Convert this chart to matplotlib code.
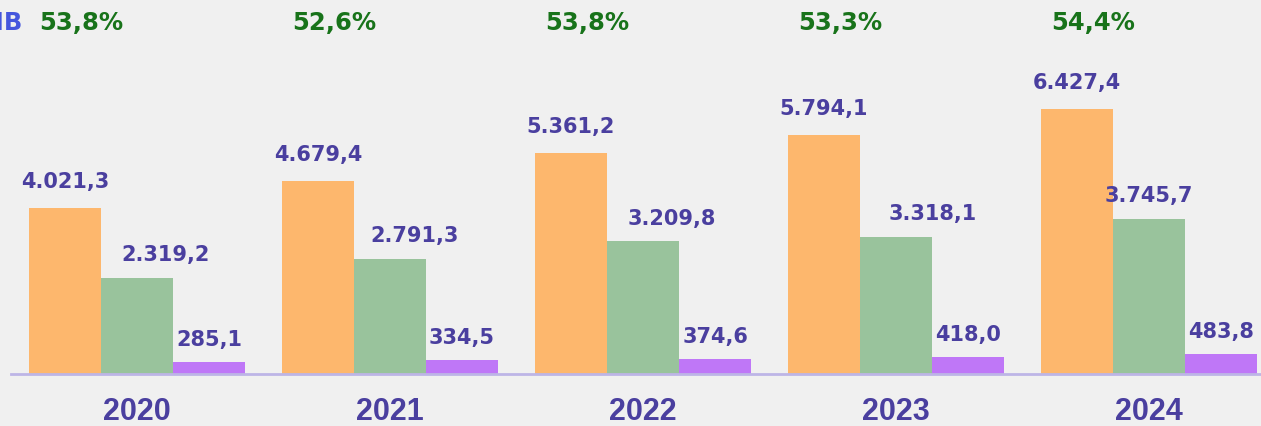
import numpy as np
import matplotlib.pyplot as plt

plt.rcParams['font.family'] = ['Liberation Sans', 'DejaVu Sans']

years = ['2020', '2021', '2022', '2023', '2024']
serie_a = [4021.3, 4679.4, 5361.2, 5794.1, 6427.4]
serie_b = [2319.2, 2791.3, 3209.8, 3318.1, 3745.7]
serie_c = [285.1, 334.5, 374.6, 418.0, 483.8]
pcts = ['53,8%', '52,6%', '53,8%', '53,3%', '54,4%']
# shift of the green labels in pixels, as in the picture
shift_b = [29, 25, 29, 37, 0]

c_a = '#FDB76D'
c_b = '#99C39C'
c_c = '#BF77F7'
c_txt = '#4A3F9F'
bg = '#F0F0F0'
lab_font = 'DejaVu Sans'


def fmt(v):
    s = f'{v:,.1f}'
    return s.replace(',', 'X').replace('.', ',').replace('X', '.')


fig = plt.figure(figsize=(12.61, 4.26), dpi=100, facecolor=bg)
ax = fig.add_axes([0, 0, 1, 1])
ax.set_facecolor(bg)

x = np.arange(len(years))
w = 72 / 253
ax.set_xlim(-137 / 253, (1261 - 137) / 253)
ax.set_ylim(-1260, 9060)

for off, vals, col in [(-w, serie_a, c_a), (0, serie_b, c_b), (w, serie_c, c_c)]:
    ax.bar(x + off, vals, width=w, color=col, zorder=2)

for i in range(len(years)):
    ax.annotate(fmt(serie_a[i]), (x[i] - w, serie_a[i]), xytext=(0, 14.4),
                textcoords='offset points', ha='center', va='baseline',
                fontsize=15, fontweight='bold', color=c_txt, family=lab_font)
    ax.annotate(fmt(serie_b[i]), (x[i], serie_b[i]), xytext=(shift_b[i] * 0.72, 12.2),
                textcoords='offset points', ha='center', va='baseline',
                fontsize=15, fontweight='bold', color=c_txt, family=lab_font)
    ax.annotate(fmt(serie_c[i]), (x[i] + w, serie_c[i]), xytext=(0, 11.5),
                textcoords='offset points', ha='center', va='baseline',
                fontsize=15, fontweight='bold', color=c_txt, family=lab_font)
    ax.text(x[i] - 0.22, 1 - 30 / 426, pcts[i], transform=ax.get_xaxis_transform(),
            ha='center', va='baseline', fontsize=17.5, fontweight='bold',
            color='#18731A', family=lab_font)
    ax.text(x[i], 1 - 412 / 426, years[i], transform=ax.get_xaxis_transform(),
            ha='center', va='center', fontsize=22, fontweight='bold', color=c_txt)

ax.axhline(0, xmin=11 / 1261, xmax=1, color='#BDB5E6', lw=2, zorder=3)
fig.text(23 / 1261, 1 - 30 / 426, 'PIB', ha='right', va='baseline',
         fontsize=17.5, fontweight='bold', color='#4556DD', family=lab_font)

ax.axis('off')
fig.savefig('out.png', dpi=100, facecolor=bg)
